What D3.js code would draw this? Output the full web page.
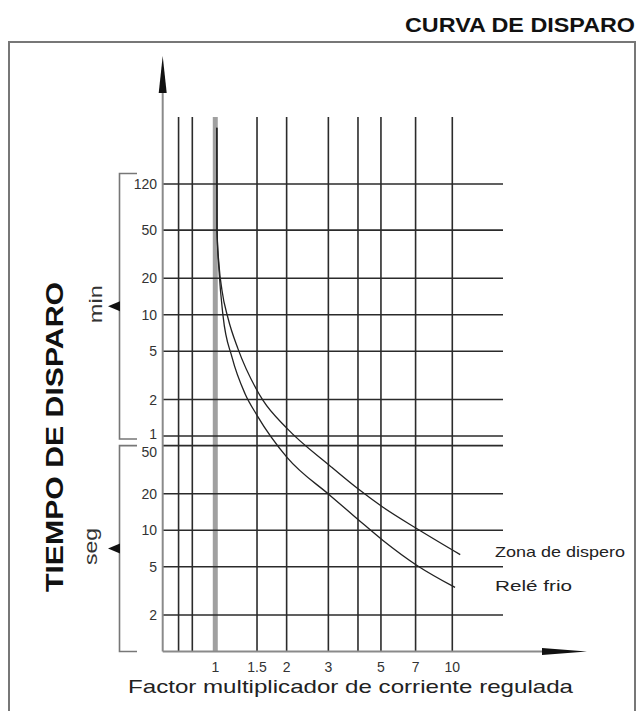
<!DOCTYPE html>
<html>
<head>
<meta charset="utf-8">
<script src="https://cdn.jsdelivr.net/npm/d3@7"></script>
<style>
  body { margin: 0; background: #fff; }
  svg { display: block; font-family: Arial, "Liberation Sans", sans-serif; }
</style>
</head>
<body>
<div id="chart"></div>
<script>
// multiples of the set current that get a vertical grid line
const xGrid = [0.7, 0.8, 1, 1.5, 2, 3, 4, 5, 7, 10]
const xTickLabels = [1, 1.5, 2, 3, 5, 7, 10]
// trip time ticks, minutes block and seconds block
const minTicks = [120, 50, 20, 10, 5, 2, 1]
const segTicks = [50, 20, 10, 5, 2]

// curves: [multiple of current, trip time in seconds]
const zonaDisparo = [
  [1.015, 21000], [1.017, 3000], [1.037, 1540], [1.067, 957], [1.132, 562],
  [1.247, 314], [1.485, 148], [1.59, 118], [2.007, 69.4], [3.05, 34],
  [4.0, 22], [5.1, 15.5], [7.1, 10.3], [10.8, 6.3]
]
const releFrio = [
  [1.015, 21000], [1.017, 3000], [1.037, 1390], [1.078, 590], [1.177, 267],
  [1.335, 134], [1.5, 88.9], [2.007, 40], [3.05, 19.4], [4.0, 12.3],
  [5.1, 8.25], [7.1, 5.13], [10.27, 3.38]
]

const width = 638
const height = 711
const gridColor = "#2b2b2b"
const axisColor = "#8a8a8a"

const svg = d3.select("#chart")
  .append("svg")
  .attr("width", width)
  .attr("height", height)

const x = d3.scaleLog().domain([0.6, 10]).range([162.7, 452.3])
const y = d3.scaleLog().domain([1, 7200]).range([651.5, 184])

const gridTop = 117
const gridRight = 503

// frame
svg.append("path")
  .attr("d", `M9,${height} V42 H635 V${height}`)
  .attr("fill", "none")
  .attr("stroke", "#777")
  .attr("stroke-width", 2)

svg.append("text")
  .attr("x", 405)
  .attr("y", 31.5)
  .attr("font-size", 20)
  .attr("font-weight", "bold")
  .attr("fill", "#111")
  .attr("textLength", 230)
  .attr("lengthAdjust", "spacingAndGlyphs")
  .text("CURVA DE DISPARO")

// vertical grid
svg.append("g")
  .selectAll("line")
  .data(xGrid)
  .enter()
  .append("line")
  .attr("x1", d => x(d))
  .attr("x2", d => x(d))
  .attr("y1", gridTop)
  .attr("y2", y(1))
  .attr("stroke", d => d === 1 ? "#a0a0a0" : gridColor)
  .attr("stroke-width", d => d === 1 ? 5 : 1.6)

// horizontal grid
const hLines = minTicks.map(m => m * 60).concat(segTicks)
svg.append("g")
  .selectAll("line")
  .data(hLines)
  .enter()
  .append("line")
  .attr("x1", x(0.6))
  .attr("x2", gridRight)
  .attr("y1", d => y(d))
  .attr("y2", d => y(d))
  .attr("stroke", gridColor)
  .attr("stroke-width", 1.6)

// axes with arrow heads
svg.append("line")
  .attr("x1", x(0.6)).attr("x2", 542)
  .attr("y1", y(1)).attr("y2", y(1))
  .attr("stroke", axisColor)
  .attr("stroke-width", 2)
svg.append("path")
  .attr("d", `M542,${y(1) - 3.5} L587,${y(1)} L542,${y(1) + 3.5} Z`)
  .attr("fill", "#111")

svg.append("line")
  .attr("x1", x(0.6)).attr("x2", x(0.6))
  .attr("y1", y(1)).attr("y2", 92)
  .attr("stroke", axisColor)
  .attr("stroke-width", 2)
svg.append("path")
  .attr("d", `M${x(0.6) - 4},93 L${x(0.6)},56 L${x(0.6) + 4},93 Z`)
  .attr("fill", "#111")

// x tick labels
svg.append("g")
  .selectAll("text")
  .data(xTickLabels)
  .enter()
  .append("text")
  .attr("x", d => x(d))
  .attr("y", 671.5)
  .attr("text-anchor", "middle")
  .attr("font-size", 14)
  .attr("fill", "#333")
  .text(d => d)

svg.append("text")
  .attr("x", 128)
  .attr("y", 693)
  .attr("font-size", 18.5)
  .attr("fill", "#222")
  .attr("textLength", 445)
  .attr("lengthAdjust", "spacingAndGlyphs")
  .text("Factor multiplicador de corriente regulada")

// y tick labels; the 1 min / 50 s pair sits very close, nudge them apart
const yLabels = minTicks.map(m => ({ v: m * 60, label: m, dy: m === 1 ? -2 : 0 }))
  .concat(segTicks.map(s => ({ v: s, label: s, dy: s === 50 ? 6 : 0 })))

svg.append("g")
  .selectAll("text")
  .data(yLabels)
  .enter()
  .append("text")
  .attr("x", 157)
  .attr("y", d => y(d.v) + d.dy)
  .attr("dy", "0.36em")
  .attr("text-anchor", "end")
  .attr("font-size", 14)
  .attr("fill", "#333")
  .text(d => d.label)

// brackets for min / seg
const bracketX = 119.5
const brackets = [
  { top: y(7200) - 10.5, bottom: y(60) + 3, label: "min", labelX: 101.5, len: 38 },
  { top: y(50), bottom: y(1), label: "seg", labelX: 96.5, len: 37 }
]

brackets.forEach(b => {
  svg.append("path")
    .attr("d", `M137,${b.top} H${bracketX} V${b.bottom} H137`)
    .attr("fill", "none")
    .attr("stroke", "#777")
    .attr("stroke-width", 1.6)

  const mid = (b.top + b.bottom) / 2
  svg.append("path")
    .attr("d", `M${bracketX + 0.5},${mid - 5} L108,${mid} L${bracketX + 0.5},${mid + 5} Z`)
    .attr("fill", "#111")

  svg.append("text")
    .attr("transform", `translate(${b.labelX},${mid - 2}) rotate(-90)`)
    .attr("text-anchor", "middle")
    .attr("font-size", 18)
    .attr("fill", "#333")
    .attr("textLength", b.len)
    .attr("lengthAdjust", "spacingAndGlyphs")
    .text(b.label)
})

svg.append("text")
  .attr("transform", "translate(63,437) rotate(-90)")
  .attr("text-anchor", "middle")
  .attr("font-size", 24)
  .attr("font-weight", "bold")
  .attr("fill", "#111")
  .attr("textLength", 310)
  .attr("lengthAdjust", "spacingAndGlyphs")
  .text("TIEMPO DE DISPARO")

// trip curves
const line = d3.line()
  .x(d => x(d[0]))
  .y(d => y(d[1]))
  .curve(d3.curveMonotoneX)

;[zonaDisparo, releFrio].forEach(c => {
  svg.append("path")
    .datum(c)
    .attr("d", line)
    .attr("fill", "none")
    .attr("stroke", "#222")
    .attr("stroke-width", 1.3)
})

svg.append("text")
  .attr("x", 495)
  .attr("y", 557)
  .attr("font-size", 15)
  .attr("fill", "#222")
  .attr("textLength", 130)
  .attr("lengthAdjust", "spacingAndGlyphs")
  .text("Zona de dispero")

svg.append("text")
  .attr("x", 495)
  .attr("y", 591)
  .attr("font-size", 15)
  .attr("fill", "#222")
  .attr("textLength", 77)
  .attr("lengthAdjust", "spacingAndGlyphs")
  .text("Relé frio")
</script>
</body>
</html>
